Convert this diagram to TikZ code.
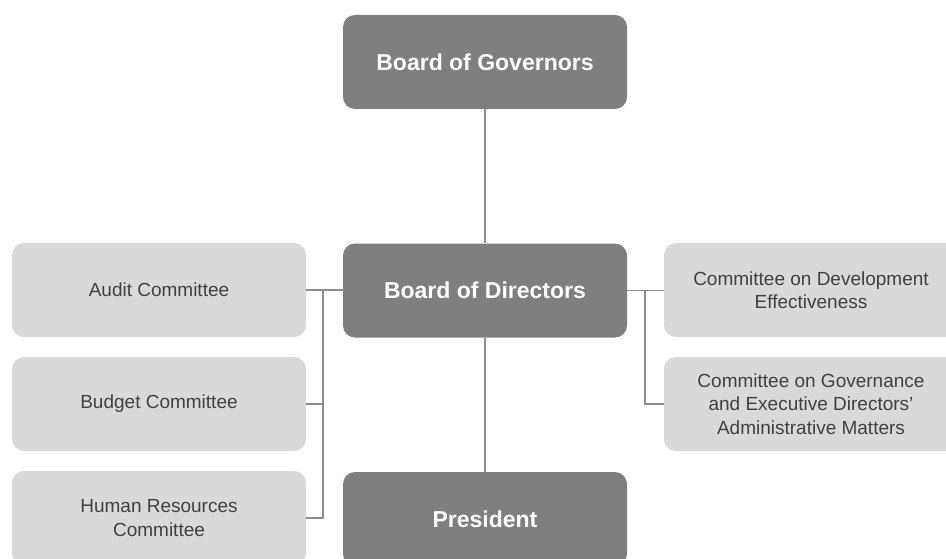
\documentclass[tikz,border=0pt]{standalone}
\usepackage{fontspec}
\setmainfont{Liberation Sans}
\definecolor{darkbox}{HTML}{7F7F7F}
\definecolor{lightbox}{HTML}{D9D9D9}
\definecolor{lighttext}{HTML}{404040}
\definecolor{linkgray}{HTML}{8C8C8C}
\begin{document}
\begin{tikzpicture}[x=1pt,y=-1pt,
  boxbase/.style={rounded corners=12pt, minimum width=284pt, minimum height=94pt, inner sep=0pt, align=center, anchor=center},
  headbox/.style={boxbase, fill=darkbox, text=white, font=\fontsize{23}{27}\selectfont\bfseries},
  combox/.style={boxbase, minimum width=294pt, fill=lightbox, text=lighttext, font=\fontsize{19}{23.3}\selectfont},
  link/.style={draw=linkgray, line width=1.2pt}]
\useasboundingbox (0,0) rectangle (946,559);
\clip (0,0) rectangle (946,559);
\fill[white] (0,0) rectangle (946,559);
% heads
\node[headbox] (gov) at (485,62) {Board of Governors};
\node[headbox] (bod) at (485,290.5) {Board of Directors};
\node[headbox] (pres) at (485,519) {President};
% left committees
\node[combox] (aud) at (159,290) {Audit Committee};
\node[combox] (bud) at (159,404) {Budget Committee};
\node[combox] (hr) at (159,518) {Human Resources\\Committee};
% right committees
\node[combox] (dev) at (811,290) {Committee on Development\\Effectiveness};
\node[combox] (cgov) at (811,404) {Committee on Governance\\and Executive Directors'\\Administrative Matters};
% buses
\coordinate (lbus) at (323,290);
\coordinate (rbus) at (645,290);
% connectors
\draw[link] (gov.south) -- (bod.north);
\draw[link] (bod.south) -- (pres.north);
\draw[link] (aud.east) -- (aud.east -| bod.west);
\draw[link] (aud.east -| lbus) |- (hr.east);
\draw[link] (bud.east) -- (bud.east -| lbus);
\draw[link] (bod.east) -- (bod.east -| dev.west);
\draw[link] (bod.east -| rbus) |- (cgov.west);
\end{tikzpicture}
\end{document}
